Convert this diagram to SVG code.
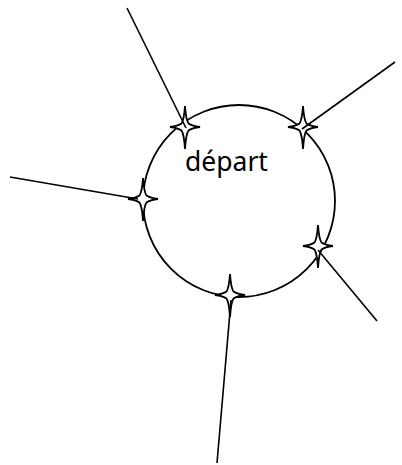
<svg xmlns="http://www.w3.org/2000/svg" width="402" height="465" viewBox="0 0 402 465">
<style>
.ln{stroke:#000;stroke-width:1.6;fill:none}
.circ{stroke:#000;stroke-width:1.8;fill:none}
.star{stroke:#000;stroke-width:1.8;fill:#fff;stroke-linejoin:miter}
.lbl{font-family:"Noto Sans","Liberation Sans",sans-serif;font-size:26.5px;fill:#000}
</style>
<defs>
<path id="st" d="M0,-21 Q1,-7 3.5,-3.5 Q7,-1 15,0 Q7,1 3.5,3.5 Q1,7 0,22 Q-1,7 -3.5,3.5 Q-7,1 -15,0 Q-7,-1 -3.5,-3.5 Q-1,-7 0,-21 Z"/>
</defs>
<rect width="402" height="465" fill="#fff"/>
<g id="depart">
<circle class="circ" cx="239" cy="201" r="96"/>
<text class="lbl" x="185" y="171">départ</text>
</g>
<g id="stars">
<g id="s1"><use href="#st" class="star" x="185" y="127"/></g>
<g id="s2"><use href="#st" class="star" x="303" y="127"/></g>
<g id="s3"><use href="#st" class="star" x="143" y="199"/></g>
<g id="s4"><use href="#st" class="star" x="318" y="246"/></g>
<g id="s5"><use href="#st" class="star" x="230" y="295"/></g>
</g>
<g id="connectors">
<line class="ln" x1="127" y1="8" x2="186" y2="128"/>
<line class="ln" x1="395" y1="62" x2="302" y2="129"/>
<line class="ln" x1="10" y1="177" x2="138" y2="199"/>
<line class="ln" x1="377" y1="321" x2="318" y2="250"/>
<line class="ln" x1="217" y1="463" x2="231" y2="300"/>
</g>
</svg>
